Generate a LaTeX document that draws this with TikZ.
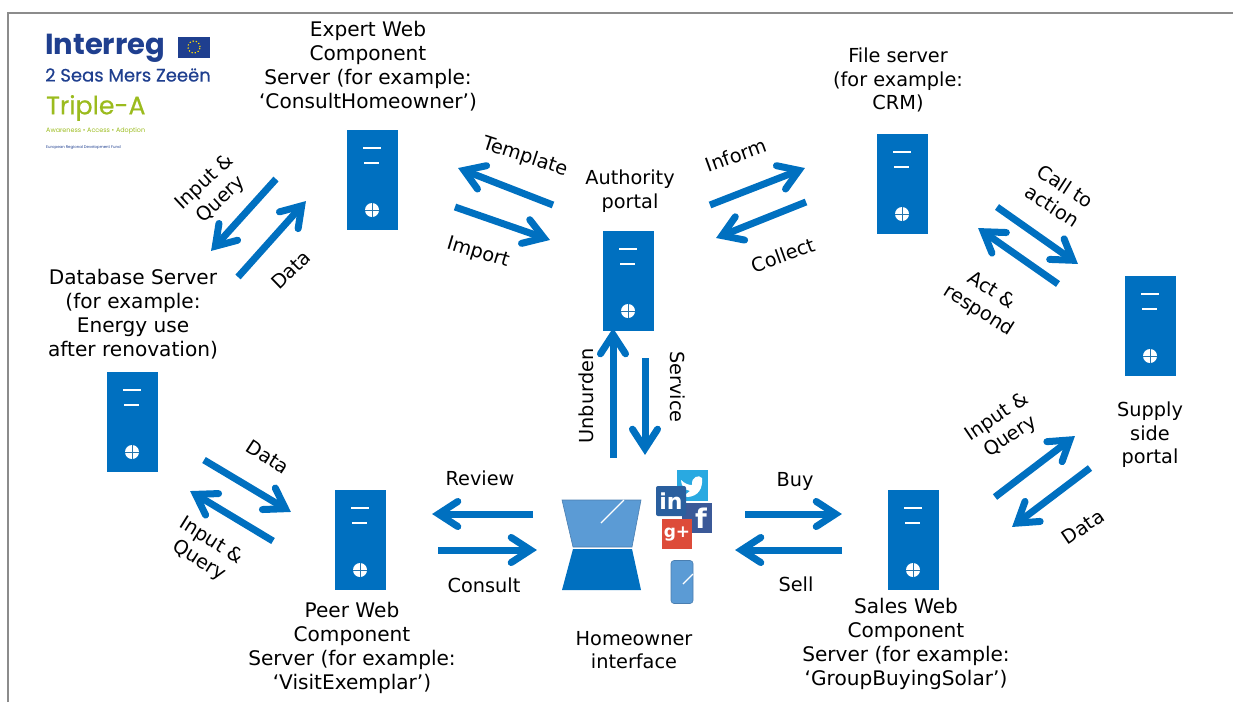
\documentclass[tikz,border=0pt]{standalone}
\usepackage{fontspec}
\setmainfont{DejaVu Sans}
\newfontfamily\logofont{Poppins}
\newfontfamily\logomed[FakeBold=0.5]{Poppins}
\usepackage{tikz}
\usetikzlibrary{calc}
\definecolor{flowblue}{HTML}{0070C0}
\definecolor{screenblue}{HTML}{5B9BD5}
\definecolor{edgeblue}{HTML}{4A7EB0}
\definecolor{framegray}{HTML}{8C8C8C}
\definecolor{regblue}{HTML}{1F3F8F}
\definecolor{tripgreen}{HTML}{9BBB1E}
\definecolor{twitterblue}{HTML}{29A9E1}
\definecolor{fbblue}{HTML}{3B5998}
\definecolor{inblue}{HTML}{2A5F9E}
\definecolor{gplusred}{HTML}{DD4B39}
\tikzset{
  flow/.style={draw=flowblue,line width=7pt},
  flowhead/.style={draw=flowblue,line width=7pt,line cap=round,miter limit=10},
  lab/.style={font=\fontsize{19.3pt}{23.6pt}\selectfont,align=center,text=black,inner sep=0pt},
  lablong/.style={lab,font=\fontsize{20.1pt}{23.8pt}\selectfont},
  logo/.style={inner sep=0pt,anchor=west},
  badge/.style={inner sep=0pt,text=white,minimum size=30pt,font=\bfseries\fontsize{22pt}{22pt}\selectfont}
}
% one server box
\newcommand{\servbox}[3]{
  \node[fill=flowblue,minimum width=51pt,minimum height=100pt,inner sep=0pt] (#1) at (#2,#3) {};
  \draw[white,line width=1.3pt] ($(#1.center)+(-9,-32)$) -- ++(18,0);
  \draw[white,line width=1.3pt] ($(#1.center)+(-8,-17)$) -- ++(15,0);
  \fill[white] ($(#1.center)+(0,30)$) circle (7pt);
  \draw[flowblue!70!gray,line width=.6pt] ($(#1.center)+(-7,30)$) -- ++(14,0) ($(#1.center)+(0,23)$) -- ++(0,14);
}
\begin{document}
\begin{tikzpicture}[x=1pt,y=-1pt]
\useasboundingbox (0,0) rectangle (1233,702);
% frame
\draw[framegray,line width=1.5pt] (8,702) -- (8,13) -- (1233,13);

% logo
\node[logo,text=regblue,font=\logofont\bfseries\fontsize{29pt}{29pt}\selectfont] (interreg) at (45,48) {Interreg};
\node[fill=regblue,minimum width=32pt,minimum height=21pt,inner sep=0pt] (flag) at (194,47) {};
\draw[yellow!80!orange,line width=1.2pt,dotted] (flag.center) circle (6pt);
\node[logo,text=regblue,font=\logomed\fontsize{18pt}{18pt}\selectfont] (seas) at (45,75) {2 Seas Mers Zeeën};
\node[logo,text=tripgreen,font=\logomed\fontsize{25.3pt}{26pt}\selectfont] (triple) at (46,108) {Triple-A};
\node[logo,text=tripgreen,font=\logofont\fontsize{6.4pt}{7pt}\selectfont] (aaa) at (46,131) {Awareness • Access • Adoption};
\node[logo,text=regblue,font=\logofont\fontsize{3.9pt}{4pt}\selectfont] (erdf) at (46,148) {European Regional Development Fund};

% servers
\servbox{expert}{372}{180}
\servbox{authority}{628}{281}
\servbox{fileserv}{902}{184}
\servbox{supply}{1150}{326}
\servbox{database}{132}{422}
\servbox{peer}{360}{540}
\servbox{sales}{913}{540}

% server labels
\node[lablong] (expertlab) at (368,66) {Expert Web\\Component\\Server (for example:\\‘ConsultHomeowner’)};
\node[lab] (authoritylab) at (630,191) {Authority\\portal};
\node[lab] (filelab) at (898,80) {File server\\(for example:\\CRM)};
\node[lab] (supplylab) at (1150,435) {Supply\\side\\portal};
\node[lablong] (databaselab) at (133,314) {Database Server\\(for example:\\Energy use\\after renovation)};
\node[lablong] (peerlab) at (352,648) {Peer Web\\Component\\Server (for example:\\‘VisitExemplar’)};
\node[lablong] (saleslab) at (906,644) {Sales Web\\Component\\Server (for example:\\‘GroupBuyingSolar’)};
\node[lab] (homelab) at (634,650) {Homeowner\\interface};

% laptop
\filldraw[fill=screenblue,draw=edgeblue,line width=.6pt] (562,500) -- (641,500) -- (632,547) -- (573,547) -- cycle;
\draw[white,line width=1.2pt] (601,523) -- (624,500);
\fill[flowblue] (573,549) -- (632,549) -- (641,590) -- (562,590) -- cycle;

% phone
\node[fill=screenblue,draw=edgeblue,line width=.6pt,rounded corners=3pt,minimum width=22pt,minimum height=43pt,inner sep=0pt] (phone) at (682,582) {};
\draw[white,line width=1.2pt] (683,584) -- (693,574);

% social badges
\node[badge,fill=twitterblue,minimum size=31pt] (twitter) at (692,485) {};
\fill[white] (681,480) .. controls (685,484) and (689,485) .. (692,485) .. controls (691,477) and (699,474) .. (702,478) .. controls (703,489) and (698,496) .. (688,497) .. controls (685,497) and (683,496) .. (681,494) .. controls (686,495) and (688,493) .. (690,491) .. controls (685,490) and (681,486) .. (681,480) -- cycle;
\node[badge,fill=fbblue] (facebook) at (697,518) {};
\node[text=white,inner sep=0pt,font=\bfseries\fontsize{27pt}{27pt}\selectfont] (fletter) at (701,518) {f};
\node[badge,fill=inblue,rounded corners=2pt] (linkedin) at (671,501) {in};
\node[badge,fill=gplusred,font=\bfseries\fontsize{17pt}{17pt}\selectfont] (gplus) at (677,534) {g+};

% arrow ends
\coordinate (templatea) at (553,205); \coordinate (templateb) at (458,168);
\coordinate (importa) at (455,207);   \coordinate (importb) at (550,240);
\coordinate (informa) at (710,205);   \coordinate (informb) at (805,168);
\coordinate (collecta) at (806,202);  \coordinate (collectb) at (716,238);
\coordinate (calla) at (997,207);     \coordinate (callb) at (1078,264);
\coordinate (acta) at (1058,284);     \coordinate (actb) at (978,228);
\coordinate (inputa) at (995,497);    \coordinate (inputb) at (1075,436);
\coordinate (dataa) at (1090,468);    \coordinate (datab) at (1012,527);
\coordinate (buya) at (745,514);      \coordinate (buyb) at (842,514);
\coordinate (sella) at (842,550);     \coordinate (sellb) at (735,550);
\coordinate (reviewa) at (533,514);   \coordinate (reviewb) at (432,514);
\coordinate (consulta) at (438,550);  \coordinate (consultb) at (537,550);
\coordinate (peerdataa) at (204,460); \coordinate (peerdatab) at (291,512);
\coordinate (peerinputa) at (273,541);\coordinate (peerinputb) at (190,491);
\coordinate (unburdena) at (613,458); \coordinate (unburdenb) at (613,328);
\coordinate (servicea) at (645,358);  \coordinate (serviceb) at (645,455);
\coordinate (dbinputa) at (276,179);  \coordinate (dbinputb) at (211,251);
\coordinate (dbdataa) at (238,277);   \coordinate (dbdatab) at (306,201);

% arrows
\foreach \a in {template,import,inform,collect,call,act,input,data,buy,sell,review,consult,peerdata,peerinput,unburden,service,dbinput,dbdata}{
  \coordinate (vtx) at ($(\a b)!6.5pt!(\a a)$);
  \draw[flow] (\a a) -- (vtx);
  \draw[flowhead] ($(vtx)!23pt!33:(\a a)$) -- (vtx) -- ($(vtx)!23pt!-33:(\a a)$);
}

% arrow labels
\node[lab,rotate=-18] (templatelab) at (525,157) {Template};
\node[lab,rotate=-17] (importlab) at (478,253) {Import};
\node[lab,rotate=20] (informlab) at (736,155) {Inform};
\node[lab,rotate=20] (collectlab) at (783,255) {Collect};
\node[lab,rotate=-33] (calllab) at (1059,196) {Call to\\action};
\node[lab,rotate=-32] (actlab) at (985,301) {Act \&\\respond};
\node[lab,rotate=34] (inputlab) at (1004,427) {Input \&\\Query};
\node[lab,rotate=34] (datalab) at (1083,527) {Data};
\node[lab] (buylab) at (795,481) {Buy};
\node[lab] (selllab) at (796,584) {Sell};
\node[lab] (reviewlab) at (480,478) {Review};
\node[lab] (consultlab) at (484,585) {Consult};
\node[lab,rotate=-33] (peerdatalab) at (268,457) {Data};
\node[lab,rotate=-32] (peerinputlab) at (205,551) {Input \&\\Query};
\node[lab,rotate=90] (unburdenlab) at (586,396) {Unburden};
\node[lab,rotate=-90] (servicelab) at (678,387) {Service};
\node[lab,rotate=43] (dbinputlab) at (213,191) {Input \&\\Query};
\node[lab,rotate=44] (dbdatalab) at (291,270) {Data};
\end{tikzpicture}
\end{document}
